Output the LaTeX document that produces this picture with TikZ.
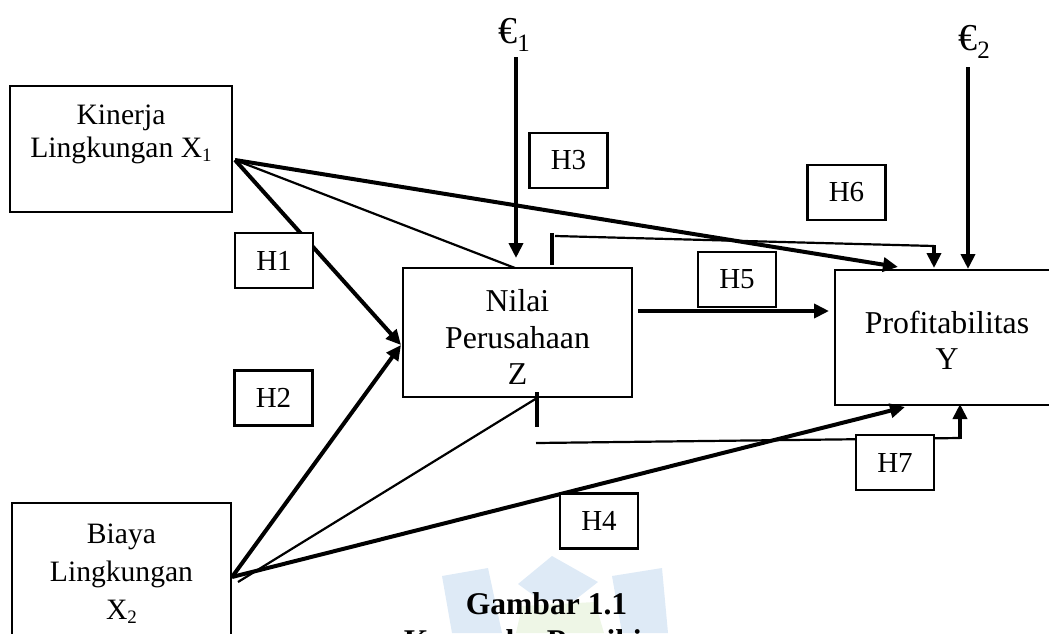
\documentclass[tikz,border=0pt]{standalone}
\usepackage{fontspec}
\setmainfont{Liberation Serif}
\usetikzlibrary{arrows.meta,calc}
\newcommand\lowsub[1]{\raisebox{-0.3ex}{\fontsize{9.5}{9.5}\selectfont #1}}
\newcommand\esub[1]{\raisebox{-0.45ex}{\fontsize{12.5}{12.5}\selectfont #1}}
\begin{document}
\begin{tikzpicture}[x=0.5pt,y=-0.5pt,
  box/.style={draw,line width=1.4pt,fill=white,inner sep=0pt},
  hbox/.style={draw,line width=1.4pt,fill=white,minimum width=39pt,minimum height=27.5pt,inner sep=0pt,font=\fontsize{14.5}{17}\selectfont},
  lbl/.style={align=center,inner sep=0pt},
  heavy/.style={line width=2pt},
  light/.style={line width=1.1pt},
  arr/.style={-{Triangle[length=7.5pt,width=7pt]}},
]
\useasboundingbox (0,0) rectangle (1049,633);
\definecolor{wmblue}{RGB}{222,234,246}
\definecolor{wmgreen}{RGB}{238,246,230}
% watermark
\fill[wmblue] (442,576) -- (488,568) -- (502,633) -- (452,633) -- cycle;
\fill[wmblue] (518,584) -- (552,556) -- (598,582) -- (575,600) -- (540,600) -- cycle;
\fill[wmblue] (612,576) -- (662,568) -- (668,633) -- (622,633) -- cycle;
\fill[wmgreen] (522,606) -- (595,602) -- (604,633) -- (516,633) -- cycle;

% main boxes
\node[box,minimum width=111pt,minimum height=63pt] (x1) at (121,149) {};
\node[lbl,font=\fontsize{14.8}{16.5}\selectfont] (x1t) at (121,134) {Kinerja\\Lingkungan X\lowsub{1}};
\node[box,minimum width=114.5pt,minimum height=64.5pt] (z) at (517.5,332.5) {};
\node[lbl,font=\fontsize{15.9}{18.25}\selectfont] (zt) at (517.5,337) {Nilai\\Perusahaan\\Z};
\node[box,minimum width=110pt,minimum height=67.5pt] (y) at (945,337.5) {};
\node[lbl,font=\fontsize{15.9}{18}\selectfont] (yt) at (947,340) {Profitabilitas\\Y};
\node[box,minimum width=109.5pt,minimum height=78.5pt] (x2) at (121.5,581.5) {};
\node[lbl,font=\fontsize{14.8}{19}\selectfont] (x2t) at (121.5,574) {Biaya\\Lingkungan\\X\lowsub{2}};

% error terms
\node[lbl,font=\fontsize{19}{21}\selectfont] (e1) at (514,35) {€\esub{1}};
\node[lbl,font=\fontsize{19}{21}\selectfont] (e2) at (974,42) {€\esub{2}};

% named points
\coordinate (x1p) at (235,160);
\coordinate (x2p) at (232,577);
\coordinate (x2q) at (238,582);
\coordinate (zl) at (401,345);
\coordinate (ztop) at (515,268);
\coordinate (zbot) at (537,398);
\coordinate (zr) at (638,311);
\coordinate (yl) at (829,311);
\coordinate (yh6) at (898,267);
\coordinate (yh4) at (905,407);
\coordinate (e1a) at (516,57);
\coordinate (e1b) at (516,258);
\coordinate (e2a) at (968,67);
\coordinate (e2b) at (968,269);
\coordinate (mta) at (552,233);
\coordinate (mtb) at (552,265);
\coordinate (mtc) at (555,236);
\coordinate (mtd) at (934,246);
\coordinate (mte) at (934,268);
\coordinate (mba) at (537,392);
\coordinate (mbb) at (537,427);
\coordinate (mbc) at (536,443);
\coordinate (mbd) at (960,438);
\coordinate (mbe) at (960,404);

% connectors from X1
\draw[heavy,arr] (x1p) -- (yh6);
\draw[light] (x1p) -- (ztop);
\draw[heavy,arr] (x1p) -- (zl);
% connectors from X2
\draw[heavy,arr] (x2p) -- (zl);
\draw[light] (x2q) -- (zbot);
\draw[heavy,arr] (x2p) -- (yh4);
% Z -> Y
\draw[heavy,arr] (zr) -- (yl);
% error arrows
\draw[heavy,arr] (e1a) -- (e1b);
\draw[heavy,arr] (e2a) -- (e2b);
% moderation paths
\draw[heavy] (mta) -- (mtb);
\draw[light] (mtc) -- (mtd);
\draw[heavy,arr] ($(mtd)+(0,-1)$) -- (mte);
\draw[heavy] (mba) -- (mbb);
\draw[light] (mbc) -- (mbd);
\draw[heavy,arr] ($(mbd)+(0,1)$) -- (mbe);

% hypothesis labels
\node[hbox] (h1) at (274,260.5) {H1};
\node[hbox] (h2) at (273.5,398) {H2};
\node[hbox] (h3) at (568.5,160.5) {H3};
\node[hbox] (h4) at (599,521) {H4};
\node[hbox] (h5) at (737,279.5) {H5};
\node[hbox] (h6) at (846.5,192.5) {H6};
\node[hbox] (h7) at (895,462.5) {H7};

% caption
\node[anchor=base,inner sep=0pt,font=\bfseries\fontsize{15.8}{19}\selectfont] (cap1) at (546.5,614) {Gambar 1.1};
\node[anchor=base,inner sep=0pt,font=\bfseries\fontsize{15.8}{19}\selectfont] (cap2) at (546.5,651) {Kerangka Pemikiran};
\end{tikzpicture}
\end{document}
